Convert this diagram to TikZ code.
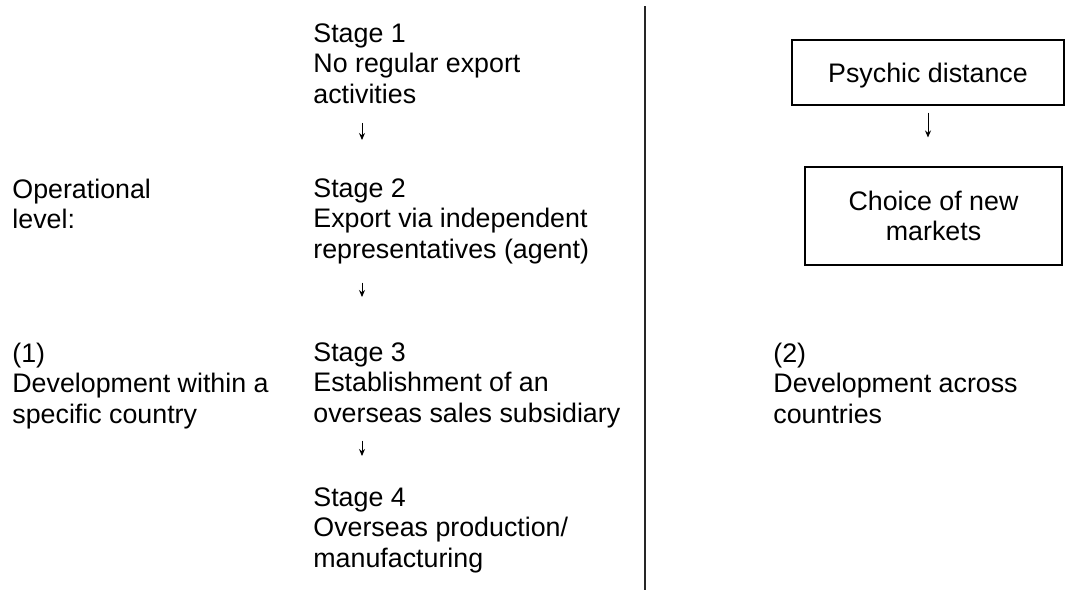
\documentclass[tikz,border=0pt]{standalone}
\usepackage{fontspec}
\setmainfont{Liberation Sans}
\usetikzlibrary{arrows.meta}
\begin{document}
\begin{tikzpicture}[x=0.5pt,y=-0.5pt,>={Stealth[length=3.5pt,width=3pt]},
        every node/.style={font=\fontsize{13.4}{15.2}\selectfont,inner sep=0pt},
        txt/.style={anchor=north west,align=left},
        box/.style={draw,line width=.55pt,align=center},
        arr/.style={->,line width=.5pt}]
    \useasboundingbox (0,0) rectangle (1067,590);
    \node[txt](s1) at (313,23.4) {Stage 1\\No regular export\\activities};
    \node[txt](s2) at (313,178.4) {Stage 2\\Export via independent\\representatives (agent)};
    \node[txt](s3) at (313,342.4) {Stage 3\\Establishment of an\\overseas sales subsidiary};
    \node[txt](s4) at (313,487.4) {Stage 4\\Overseas production/\\manufacturing};
    \node[txt](op) at (12,178.4) {Operational\\level:};
    \node[txt](c1) at (12,342.4) {(1)\\Development within a\\specific country};
    \node[txt](c2) at (773,342.4) {(2)\\Development across\\countries};
    \node[box,text depth=0pt,minimum width=136pt,minimum height=32.5pt](b1) at (928,72.5) {Psychic distance};
    \node[box,minimum width=128.5pt,minimum height=49pt](b2) at (933.5,216) {Choice of new\\markets};
    \coordinate (ax) at (362,0);
    \coordinate (top) at (645,6);
    \coordinate (bot) at (645,590);
    \draw[line width=.7pt,color=black!85] (top) -- (bot);
    \draw[arr,shorten <=9.5pt,shorten >=19.2pt] (s1.south -| ax) -- (s2.north -| ax);
    \draw[arr,shorten <=9.2pt,shorten >=22.7pt] (s2.south -| ax) -- (s3.north -| ax);
    \draw[arr,shorten <=6.2pt,shorten >=15.7pt] (s3.south -| ax) -- (s4.north -| ax);
    \draw[arr,shorten <=3.5pt,shorten >=14.5pt] (b1.south) -- (b1.south |- b2.north);
\end{tikzpicture}
\end{document}
